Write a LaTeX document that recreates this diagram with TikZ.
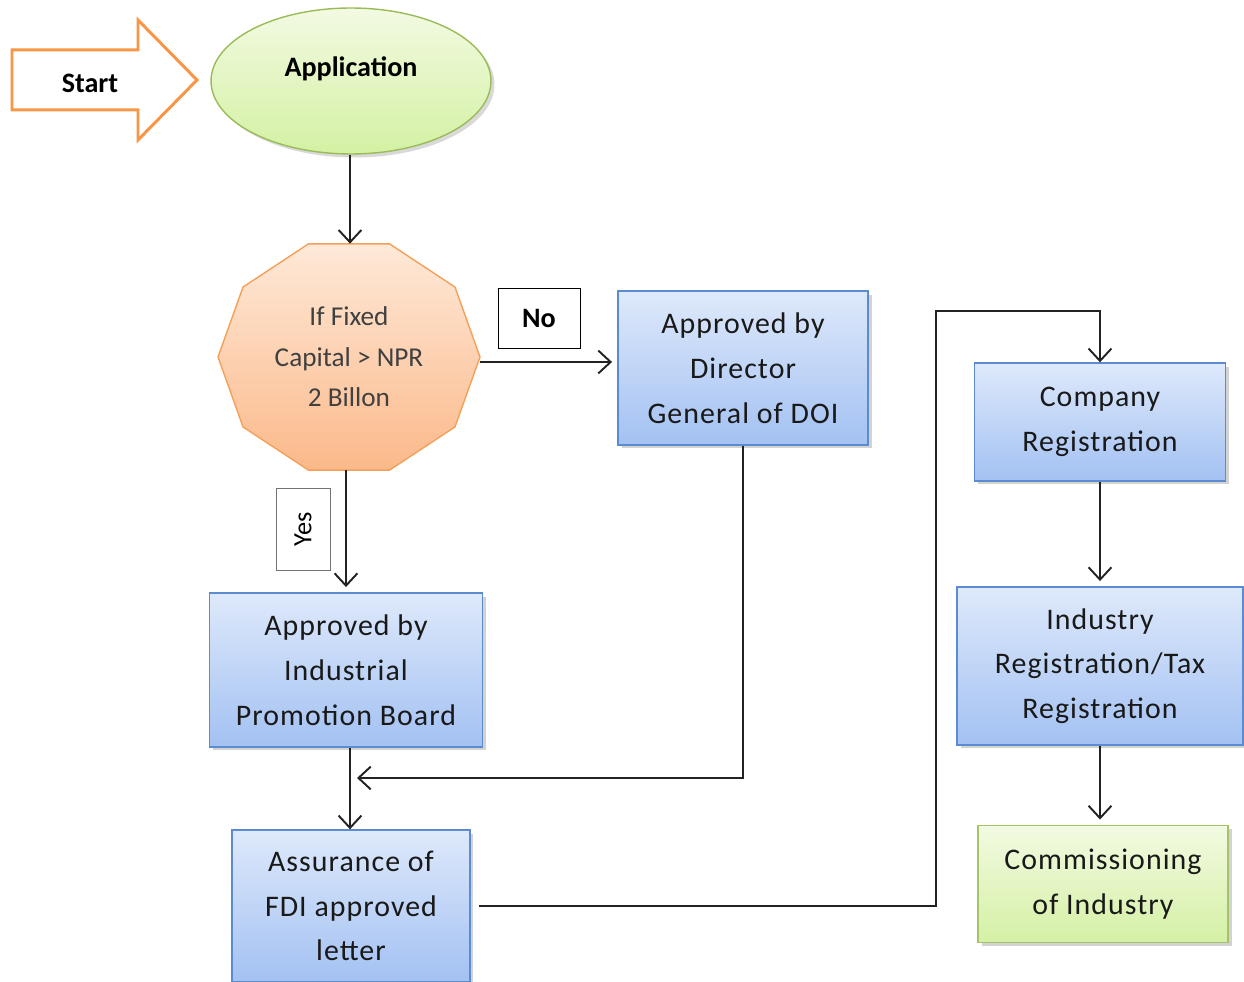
\documentclass[tikz,border=0pt]{standalone}
\usepackage{fontspec}
\setmainfont{Carlito}
\usetikzlibrary{shapes.geometric, arrows.meta, positioning, shadows, calc}
\definecolor{boxblue}{HTML}{5B8BD0}
\definecolor{boxgreen}{HTML}{A3C46A}
\definecolor{decorange}{HTML}{F5A05A}
\definecolor{startorange}{HTML}{F79646}
\definecolor{linegray}{HTML}{222222}

\begin{document}
\begin{tikzpicture}[x=0.02cm, y=-0.02cm,
  procbox/.style={draw=boxblue, line width=0.8pt, top color={rgb,255:red,222;green,233;blue,251}, bottom color={rgb,255:red,163;green,193;blue,242},
    drop shadow={shadow xshift=2pt, shadow yshift=-2pt, opacity=0.35},
    align=center, font=\fontsize{17}{25.5}\selectfont\addfontfeature{LetterSpace=3.5}, text=black!90},
  endbox/.style={draw=boxgreen, line width=0.8pt, top color={rgb,255:red,242;green,250;blue,226}, bottom color={rgb,255:red,213;green,240;blue,165},
    drop shadow={shadow xshift=2pt, shadow yshift=-2pt, opacity=0.35},
    align=center, font=\fontsize{17}{25.5}\selectfont\addfontfeature{LetterSpace=3.5}, text=black!90},
  lblbox/.style={draw, fill=white, font=\fontsize{16}{18}\selectfont\bfseries, inner sep=0pt},
  arr/.style={-{Straight Barb[length=7pt, width=13pt, line width=1.1pt]}, line width=1.1pt, draw=linegray},
  decfill/.style={draw=decorange, line width=0.8pt, top color={rgb,255:red,254;green,233;blue,216}, bottom color={rgb,255:red,251;green,185;blue,138}}
]
\useasboundingbox (0,0) rectangle (1244,982);

% Start arrow and application
\draw[startorange, line width=1.7pt, fill=white, line join=miter]
  (12,50) -- (138,50) -- (138,20) -- (197,80) -- (138,140) -- (138,110) -- (12,110) -- cycle;
\node[font=\fontsize{16}{18}\selectfont\bfseries] (start) at (90,83) {Start};
\node[ellipse, draw={rgb,255:red,155;green,187;blue,89}, line width=0.8pt, minimum width=5.6cm, minimum height=2.92cm,
  top color={rgb,255:red,242;green,250;blue,226}, bottom color={rgb,255:red,212;green,241;blue,163},
  drop shadow={shadow xshift=2pt, shadow yshift=-2pt, opacity=0.3},
  font=\fontsize{16}{18}\selectfont\bfseries] (app) at (351,81) {\raisebox{0.56cm}{Application}};

% Decision
\node[minimum width=5.24cm, minimum height=4.52cm] (dec) at (349,357) {};
\begin{scope}[shift={(dec.center)}]
  \draw[decfill] (0:131 and 119) \foreach \a in {36,72,...,324}{ -- (\a:131 and 119) } -- cycle;
\end{scope}
\node[align=center, font=\fontsize{15.5}{23}\selectfont, text=black!75] at (dec.center) {If Fixed\\Capital > NPR\\2 Billon};

% Left column
\node[procbox, minimum width=5.46cm, minimum height=3.08cm] (ipb) at (346,670) {Approved by\\Industrial\\Promotion Board};
\node[procbox, minimum width=4.76cm, minimum height=3.04cm] (fdi) at (351,906) {Assurance of\\FDI approved\\letter};

% Middle
\node[procbox, minimum width=5cm, minimum height=3.08cm] (dir) at (743,368) {Approved by\\Director\\General of DOI};

% Right column
\node[procbox, minimum width=5.02cm, minimum height=2.36cm] (comp) at (1100,422) {Company\\Registration};
\node[procbox, minimum width=5.72cm, minimum height=3.16cm] (ind) at (1100,666) {Industry\\Registration/Tax\\Registration};
\node[endbox, minimum width=5cm, minimum height=2.34cm] (comm) at (1103,884) {Commissioning\\of Industry};

% Labels
\node[lblbox, minimum width=1.64cm, minimum height=1.2cm] (no) at (539,318) {No};
\node[lblbox, draw=black!55, font=\fontsize{15}{18}\selectfont, rotate=90, minimum width=1.64cm, minimum height=1.08cm] (yes) at (303,529) {Yes};

% Connectors
\coordinate (merge) at (350,778);
\coordinate (turn) at (936,311);
\draw[arr] (app.south -| 350,0) -- (dec.north -| 350,0);
\draw[arr, shorten >=3pt] (dec.east |- 0,362) -- (dir.west |- 0,362);
\draw[arr, shorten >=3pt] (dec.south -| ipb.north) -- (ipb.north);
\draw[arr] (ipb.south -| merge) -- (fdi.north -| merge);
\draw[arr, shorten >=4pt] (dir.south) |- (merge);
\draw[arr, shorten <=5pt] (fdi.east) -| (turn) -| (comp.north);
\draw[arr, shorten >=3pt] (comp.south) -- (comp.south |- ind.north);
\draw[arr, shorten >=3pt] (comp.south |- ind.south) -- (comp.south |- comm.north);

\end{tikzpicture}
\end{document}
